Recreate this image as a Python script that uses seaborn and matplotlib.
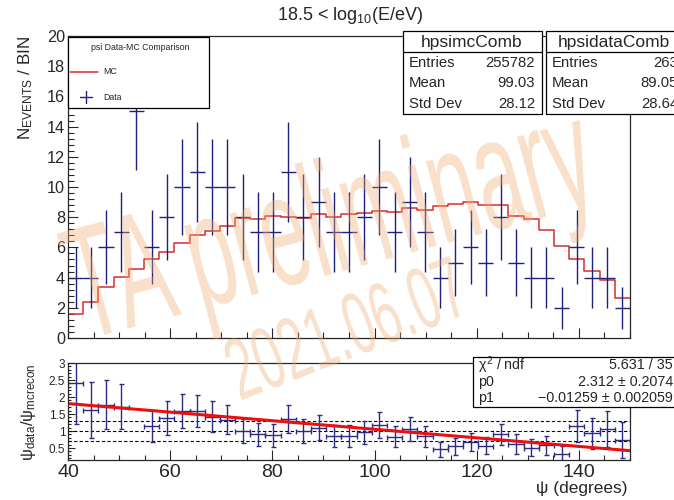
import numpy as np
import pandas as pd
import matplotlib
matplotlib.use("Agg")
import matplotlib.pyplot as plt
import seaborn as sns
from matplotlib.patches import Rectangle, PathPatch
from matplotlib.lines import Line2D
from matplotlib.textpath import TextPath
from matplotlib.font_manager import FontProperties
from matplotlib.transforms import Affine2D, IdentityTransform
from matplotlib.ticker import MultipleLocator, FuncFormatter

# --- data ---
psi_lo, psi_hi, n_bins = 40.0, 150.0, 37

data_counts = [4, 4, 6, 7, 15, 6, 8, 10, 11, 10, 10, 8, 7, 7, 11, 8, 9, 7, 7,
               8, 10, 7, 9, 7, 4, 5, 6, 5, 8, 5, 4, 4, 2, 6, 4, 4, 2]
data_err = [2.0, 2.0, 2.45, 2.65, 3.87, 2.45, 2.83, 3.16, 3.32, 3.16, 3.16, 2.83,
            2.65, 2.65, 3.32, 2.83, 3.0, 2.65, 2.65, 2.83, 3.16, 2.65, 3.0, 2.65,
            2.0, 2.24, 2.45, 2.24, 2.83, 2.24, 2.0, 2.0, 1.41, 2.45, 2.0, 2.0, 1.41]
mc_scaled = [1.62, 2.4, 3.38, 4.02, 4.58, 5.2, 5.72, 6.27, 6.85, 7.06, 7.4, 7.94,
             7.9, 8.1, 8.0, 7.93, 8.22, 8.0, 8.19, 8.25, 8.44, 8.36, 8.61, 8.48,
             8.72, 8.85, 9.0, 8.8, 8.84, 8.05, 7.85, 7.15, 6.1, 5.23, 4.45, 3.85, 2.63]

# ratio data / MC (bin 5 is off scale and not drawn)
ratio = [2.42, 1.62, 1.77, 1.72, np.nan, 1.15, 1.38, 1.59, 1.59, 1.42, 1.33, 1.0,
         0.9, 0.87, 1.35, 1.0, 1.1, 0.86, 0.85, 0.97, 1.18, 0.84, 1.05, 0.85,
         0.46, 0.56, 0.67, 0.57, 0.9, 0.62, 0.51, 0.58, 0.33, 1.15, 0.93, 1.06, 0.74]
ratio_err = [1.2, 0.81, 0.72, 0.66, np.nan, 0.47, 0.49, 0.5, 0.48, 0.45, 0.43, 0.36,
             0.34, 0.33, 0.41, 0.36, 0.36, 0.33, 0.32, 0.34, 0.37, 0.32, 0.35, 0.31,
             0.23, 0.25, 0.27, 0.25, 0.32, 0.28, 0.25, 0.28, 0.23, 0.47, 0.45, 0.52, 0.54]

fit_x = [40.0, 150.0]
fit_y = [1.808, 0.4235]
ref_lines = [0.7, 1.0, 1.3]

stat_names = ["Entries", "Mean", "Std Dev"]
mc_stat_vals = ["255782", "99.03", "28.12"]
data_stat_vals = ["263", "89.05", "28.64"]
fit_names = [r"$\chi^{2}$ / ndf", "p0", "p1"]
fit_vals = ["5.631 / 35", "2.312 \u00b1 0.2074", "\u22120.01259 \u00b1 0.002059"]

BLUE = "#1f1f7c"
RED = "#d42c2c"
W, H = 674, 500

sns.set_style("ticks")
plt.rcParams["font.family"] = ["Liberation Sans", "DejaVu Sans"]
plt.rcParams["mathtext.fontset"] = "custom"
plt.rcParams["mathtext.rm"] = "Liberation Sans"
plt.rcParams["mathtext.it"] = "Liberation Sans"
plt.rcParams["axes.linewidth"] = 0.9


def fx(px):
    return px / W


def fy(py):
    return 1 - py / H


edges = np.linspace(psi_lo, psi_hi, n_bins + 1)
centers = 0.5 * (edges[:-1] + edges[1:])
half = 0.5 * (edges[1] - edges[0])
mc_df = pd.DataFrame({"psi": centers, "w": mc_scaled})

fig = plt.figure(figsize=(6.74, 5.0), dpi=100)
ax1 = fig.add_axes([fx(68), fy(338), fx(630) - fx(68), fy(36) - fy(338)])
ax2 = fig.add_axes([fx(68), fy(460), fx(630) - fx(68), fy(363) - fy(460)])

# upper panel: MC histogram + data
sns.histplot(data=mc_df, x="psi", weights="w", bins=list(edges), element="step",
             fill=False, color=RED, linewidth=1.1, ax=ax1)
ax1.errorbar(centers, data_counts, xerr=half, yerr=data_err, fmt="none",
             ecolor=BLUE, elinewidth=1.0)
ax1.set_xlim(psi_lo, psi_hi)
ax1.set_ylim(0, 20)
ax1.xaxis.set_major_locator(MultipleLocator(20))
ax1.xaxis.set_minor_locator(MultipleLocator(5))
ax1.yaxis.set_major_locator(MultipleLocator(2))
ax1.yaxis.set_minor_locator(MultipleLocator(0.4))
ax1.tick_params(which="major", direction="in", length=7.5, width=0.8, labelsize=11.7, pad=2)
ax1.tick_params(which="minor", direction="in", length=4, width=0.8)
ax1.tick_params(axis="x", labelbottom=False)
ax1.set_xlabel("")
ax1.set_ylabel(r"$\mathrm{N_{EVENTS}}$ / BIN", fontsize=12.3, loc="top")
ax1.yaxis.set_label_coords((35 - 68) / 562, 1.0)

# lower panel: ratio + linear fit
for yv in ref_lines:
    ax2.axhline(yv, color="black", lw=0.8, ls=(0, (3, 2)))
ax2.errorbar(centers, ratio, xerr=half, yerr=ratio_err, fmt="none", ecolor="#2c2c88",
             elinewidth=1.0, capsize=1.8, capthick=1.0)
sns.lineplot(x=fit_x, y=fit_y, color="#e81010", lw=2.2, ax=ax2)
ax2.set_xlim(psi_lo, psi_hi)
ax2.set_ylim(0.15, 3.0)
ax2.xaxis.set_major_locator(MultipleLocator(20))
ax2.xaxis.set_minor_locator(MultipleLocator(5))
ax2.yaxis.set_major_locator(MultipleLocator(0.5))
ax2.yaxis.set_minor_locator(MultipleLocator(0.1))
ax2.tick_params(axis="x", which="major", direction="in", length=7, width=0.8, labelsize=14, pad=3)
ax2.tick_params(axis="x", which="minor", direction="in", length=3.5, width=0.8)
ax2.tick_params(axis="y", which="major", direction="in", length=5, width=0.8, labelsize=8.5, pad=2)
ax2.tick_params(axis="y", which="minor", direction="in", length=2.5, width=0.8)
ax2.yaxis.set_major_formatter(FuncFormatter(lambda v, p: f"{v:g}"))
ax2.set_ylabel(r"$\mathrm{\psi_{data}/\psi_{mcrecon}}$", fontsize=12, loc="top")
ax2.yaxis.set_label_coords((38 - 68) / 562, 1.0)

fig.text(fx(628), fy(488), "\u03c8 (degrees)", fontsize=12.5, ha="right", va="center")
fig.text(fx(350), fy(15), r"18.5 < $\mathrm{log_{10}}$(E/eV)", fontsize=13,
         ha="center", va="center")


def box(x0, y0, x1, y1, z=6):
    fig.add_artist(Rectangle((fx(x0), fy(y1)), fx(x1) - fx(x0), fy(y0) - fy(y1),
                             transform=fig.transFigure, facecolor="white",
                             edgecolor="black", lw=0.9, zorder=z))


def hline(x0, x1, y, z=7):
    fig.add_artist(Line2D([fx(x0), fx(x1)], [fy(y), fy(y)], transform=fig.transFigure,
                          color="black", lw=0.9, zorder=z))


# legend
box(68, 37, 209, 108)
fig.text(fx(140), fy(48), "psi Data-MC Comparison", fontsize=6.3, ha="center",
         va="center", zorder=8)
fig.add_artist(Line2D([fx(70), fx(98)], [fy(72), fy(72)], transform=fig.transFigure,
                      color=RED, lw=1.1, zorder=8))
fig.text(fx(103), fy(72), "MC", fontsize=6.3, va="center", zorder=8)
fig.add_artist(Line2D([fx(80), fx(92)], [fy(97), fy(97)], transform=fig.transFigure,
                      color=BLUE, lw=1.0, zorder=8))
fig.add_artist(Line2D([fx(86), fx(86)], [fy(91), fy(103)], transform=fig.transFigure,
                      color=BLUE, lw=1.0, zorder=8))
fig.text(fx(103), fy(97), "Data", fontsize=6.3, va="center", zorder=8)

# stat boxes (the second one runs off the right edge, as in the reference)
row_y = [63, 83, 104]
for (bx0, bx1, vx, title, tcx, vals) in [(403, 542, 535, "hpsimcComb", 472, mc_stat_vals),
                                         (546, 689, 678, "hpsidataComb", 614, data_stat_vals)]:
    box(bx0, 31, bx1, 114)
    hline(bx0, bx1, 52)
    fig.text(fx(tcx), fy(42), title, fontsize=12.5, ha="center", va="center", zorder=8)
    for name, val, ry in zip(stat_names, vals, row_y):
        fig.text(fx(bx0 + 6), fy(ry), name, fontsize=10.7, ha="left", va="center", zorder=8)
        fig.text(fx(vx), fy(ry), val, fontsize=10.7, ha="right", va="center", zorder=8)

# fit box
box(473, 357, 690, 407)
for name, val, ry in zip(fit_names, fit_vals, [365, 382, 398]):
    fig.text(fx(478), fy(ry), name, fontsize=10.3, ha="left", va="center", zorder=8)
    fig.text(fx(673), fy(ry), val, fontsize=10.3, ha="right", va="center", zorder=8)


# watermark
def watermark(text, x0, y0, length, height, angle, ref):
    fp = FontProperties(family="Liberation Sans")
    tp = TextPath((0, 0), text, size=1, prop=fp)
    ext = tp.get_extents()
    rext = TextPath((0, 0), ref, size=1, prop=fp).get_extents()
    tr = (Affine2D().translate(-ext.x0, 0)
          .scale(length / ext.width, height / rext.height)
          .rotate_deg(angle).translate(x0, H - y0))
    fig.add_artist(PathPatch(tr.transform_path(tp), transform=IdentityTransform(),
                             facecolor="#f0ae74", edgecolor="none", alpha=0.38, zorder=20))


watermark("TA preliminary", 85, 340, 535, 110, 15, "T")
watermark("2021.06.07", 242, 400, 245, 62, 21, "0")

fig.savefig("out.png", dpi=100)
